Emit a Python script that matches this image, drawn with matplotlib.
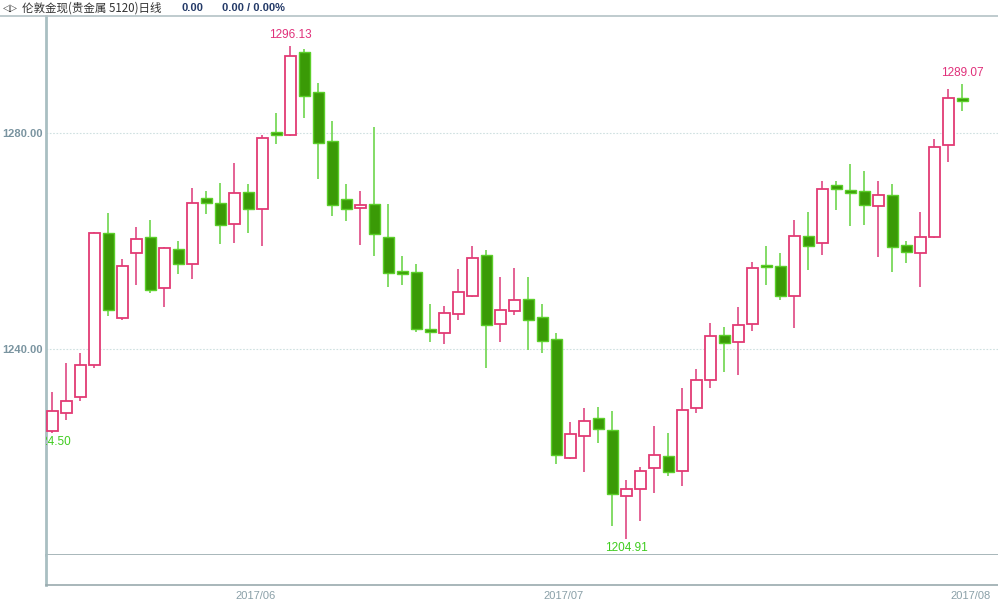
import matplotlib.pyplot as plt
from matplotlib.lines import Line2D

plt.rcParams['font.family'] = ['Liberation Sans', 'Noto Sans CJK SC', 'DejaVu Sans']

# daily candles, 2017-05-12 .. 2017-08-11
opens = [1224.93, 1228.26, 1231.22, 1237.09, 1261.48, 1245.80, 1257.83, 1260.80, 1251.30, 1258.57,
         1255.80, 1268.02, 1267.04, 1263.15, 1269.13, 1265.93, 1280.24, 1279.69, 1295.00, 1287.70,
         1278.63, 1267.78, 1266.22, 1266.91, 1260.74, 1254.50, 1254.37, 1243.81, 1243.07, 1246.54,
         1249.87, 1257.52, 1244.69, 1247.09, 1249.37, 1245.93, 1241.91, 1219.81, 1224.00, 1227.33,
         1225.06, 1212.89, 1214.13, 1217.96, 1220.24, 1217.46, 1229.19, 1234.26, 1242.70, 1241.30,
         1244.69, 1255.56, 1255.43, 1249.93, 1260.98, 1259.63, 1270.37, 1269.44, 1269.31, 1266.59,
         1268.57, 1259.31, 1257.89, 1260.74, 1277.78, 1286.59]
highs = [1232.04, 1237.41, 1239.37, 1261.67, 1265.19, 1256.67, 1262.70, 1263.94, 1259.00, 1260.06,
         1269.81, 1269.37, 1270.74, 1274.44, 1270.61, 1279.69, 1283.70, 1296.13, 1295.61, 1289.37,
         1282.28, 1270.56, 1269.31, 1281.22, 1266.91, 1257.28, 1255.80, 1248.39, 1248.02, 1254.93,
         1259.13, 1258.39, 1253.44, 1255.11, 1253.44, 1248.33, 1242.96, 1226.59, 1229.19, 1229.37,
         1228.57, 1215.80, 1218.26, 1225.80, 1224.56, 1232.89, 1236.35, 1244.81, 1244.19, 1247.89,
         1256.22, 1259.13, 1257.89, 1263.94, 1265.48, 1271.22, 1271.22, 1274.26, 1273.07, 1271.22,
         1270.56, 1260.06, 1265.48, 1279.00, 1288.15, 1289.07]
lows = [1224.50, 1226.91, 1230.43, 1236.48, 1246.17, 1245.50, 1251.91, 1250.50, 1247.89, 1253.89,
        1252.96, 1265.11, 1259.44, 1259.63, 1261.59, 1259.13, 1277.96, 1279.50, 1282.78, 1271.48,
        1264.74, 1263.76, 1259.31, 1257.28, 1251.59, 1251.91, 1243.26, 1241.41, 1241.00, 1245.43,
        1249.60, 1236.48, 1241.41, 1246.35, 1239.87, 1239.37, 1218.70, 1219.60, 1217.33, 1222.59,
        1207.33, 1204.91, 1208.26, 1213.44, 1216.54, 1214.74, 1228.15, 1232.78, 1235.85, 1235.24,
        1243.39, 1251.91, 1249.13, 1243.89, 1254.69, 1257.46, 1265.80, 1262.89, 1263.02, 1257.15,
        1254.37, 1255.93, 1251.59, 1260.56, 1274.63, 1284.13]
closes = [1228.57, 1230.43, 1237.09, 1261.48, 1247.28, 1255.43, 1260.43, 1250.98, 1258.70, 1255.80,
          1267.04, 1267.04, 1263.02, 1269.00, 1265.98, 1279.19, 1279.69, 1294.31, 1286.96, 1278.15,
          1266.72, 1265.98, 1266.78, 1261.35, 1254.07, 1254.00, 1243.70, 1243.26, 1246.78, 1250.56,
          1256.85, 1244.44, 1247.28, 1249.13, 1245.43, 1241.54, 1220.37, 1224.26, 1226.78, 1225.24,
          1213.20, 1214.19, 1217.41, 1220.43, 1217.33, 1228.76, 1234.31, 1242.46, 1241.22, 1244.50,
          1255.06, 1255.19, 1249.93, 1260.98, 1259.19, 1269.63, 1269.69, 1268.94, 1266.72, 1268.57,
          1258.89, 1257.96, 1260.80, 1277.41, 1286.59, 1285.98]

y_ticks = [1240.00, 1280.00]
month_labels = ["2017/06", "2017/07", "2017/08"]

up_edge = "#e23a74"
up_wick = "#e2568c"
dn_fill = "#3a9a06"
dn_edge = "#5ccf2a"
dn_wick = "#7ad95a"
axis_col = "#a9bfc2"

fig = plt.figure(figsize=(9.98, 6.02), dpi=100)
ax = fig.add_axes([46 / 998, 47 / 602, 1 - 46 / 998, 539 / 602])
ax_low = fig.add_axes([46 / 998, 17 / 602, 1 - 46 / 998, 30 / 602])

n = len(opens)
xs = list(range(n))
w = 0.8
for i in xs:
    o, h, l, c = opens[i], highs[i], lows[i], closes[i]
    top, bot = max(o, c), min(o, c)
    if c >= o:
        ax.vlines(i, bot, l, color=up_wick, lw=1.3, zorder=2)
        ax.vlines(i, top, h, color=up_wick, lw=1.3, zorder=2)
        ax.bar(i, top - bot, bottom=bot, width=w, facecolor="white",
               edgecolor=up_edge, linewidth=1.3, zorder=3)
    else:
        ax.vlines(i, l, h, color=dn_wick, lw=1.3, zorder=2)
        ax.bar(i, top - bot, bottom=bot, width=w, facecolor=dn_fill,
               edgecolor=dn_edge, linewidth=1.0, zorder=3)

ax.set_xlim(-0.45, 67.55)
ax.set_ylim(1201.9, 1301.7)

for v in y_ticks:
    ax.axhline(v, color="#cfe0e0", lw=0.8, ls=(0, (1.5, 1.5)), zorder=1)
ax.set_yticks(y_ticks)
ax.set_yticklabels([f"{v:.2f}" for v in y_ticks], color="#7a94a0",
                   fontsize=8, fontweight="bold")
ax.tick_params(axis="y", length=0, pad=2)
ax.set_xticks([])

for s in ["top", "right"]:
    ax.spines[s].set_visible(False)
ax.spines["left"].set_color(axis_col)
ax.spines["left"].set_linewidth(2)
ax.spines["bottom"].set_color("#9aaaae")
ax.spines["bottom"].set_linewidth(1.2)

# max / min markers
i_hi = highs.index(max(highs))
i_lo = lows.index(min(lows))
ax.text(i_hi, max(highs) + 0.9, f"{max(highs):.2f}", color="#e0307a",
        fontsize=8.5, ha="center", va="bottom")
ax.text(i_lo, min(lows) - 0.6, f"{min(lows):.2f}", color="#3fcc1e",
        fontsize=8.5, ha="center", va="top")
ax.text(n - 1, highs[-1] + 1.0, f"{highs[-1]:.2f}", color="#e0307a",
        fontsize=8.5, ha="center", va="bottom")
ax.text(-0.2, lows[0] - 0.6, f"{lows[0]:.2f}", color="#3fcc1e",
        fontsize=8.5, ha="center", va="top", clip_on=True)

# lower empty panel with month labels
ax_low.set_xlim(-0.45, 67.55)
ax_low.set_ylim(0, 1)
ax_low.set_yticks([])
ax_low.set_xticks([14.55, 36.55, 65.6])
ax_low.set_xticklabels(month_labels, color="#8aa0a8", fontsize=8)
ax_low.tick_params(axis="x", length=0, pad=4)
for s in ["top", "right"]:
    ax_low.spines[s].set_visible(False)
ax_low.spines["left"].set_color(axis_col)
ax_low.spines["left"].set_linewidth(2)
ax_low.spines["bottom"].set_color("#9aaaae")
ax_low.spines["bottom"].set_linewidth(1.2)

# header
fig.add_artist(Line2D([0, 1], [1 - 16 / 602, 1 - 16 / 602], color="#b4c2c6", lw=1.2))
fig.text(3 / 998, 1 - 8 / 602, "◁▷", color="#404040", fontsize=7,
         va="center", family=["DejaVu Sans"])
fig.text(22 / 998, 1 - 8 / 602, "伦敦金现(贵金属 5120)日线", color="#333333",
         fontsize=8.3, va="center", family=["Noto Sans CJK SC", "DejaVu Sans"])
fig.text(182 / 998, 1 - 8 / 602, "0.00", color="#243a68", fontsize=8,
         fontweight="bold", va="center")
fig.text(222 / 998, 1 - 8 / 602, "0.00 / 0.00%", color="#243a68", fontsize=8,
         fontweight="bold", va="center")

fig.savefig("out.png", dpi=100)
